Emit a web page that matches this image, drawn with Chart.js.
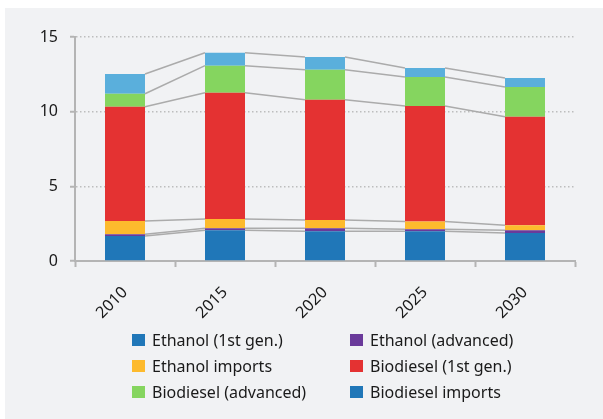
<!DOCTYPE html>
<html>
<head>
<meta charset="utf-8">
<script src="https://cdn.jsdelivr.net/npm/chart.js@4"></script>
<style>
    html, body { margin: 0; padding: 0; background: #ffffff; }
    #panel { position: absolute; left: 5px; top: 8px; width: 598px; height: 411px; background: #f1f2f4; }
    #chart-wrap { position: absolute; left: 0; top: 0; width: 598px; height: 320px; }
    #legend { position: absolute; left: 127px; top: 319px; display: grid; grid-template-columns: 218px 218px;
        font-family: 'Noto Sans', sans-serif; font-size: 16px; color: #1a1a1a; }
    .item { display: flex; align-items: center; height: 26px; white-space: nowrap; }
    .swatch { width: 13px; height: 12px; margin-right: 7px; }
</style>
</head>
<body>
<div id="panel">
    <div id="chart-wrap"><canvas id="chart"></canvas></div>
    <div id="legend"></div>
</div>
<script>
const years = ['2010', '2015', '2020', '2025', '2030'];
const seriesNames = ['Ethanol (1st gen.)', 'Ethanol (advanced)', 'Ethanol imports',
    'Biodiesel (1st gen.)', 'Biodiesel (advanced)', 'Biodiesel imports'];
const ethanol1st = [1.68, 2.06, 1.99, 1.99, 1.88];
const ethanolAdv = [0.11, 0.13, 0.20, 0.13, 0.18];
const ethanolImports = [0.89, 0.63, 0.56, 0.52, 0.33];
const biodiesel1st = [7.65, 8.45, 8.05, 7.74, 7.27];
const biodieselAdv = [0.87, 1.81, 2.01, 1.94, 1.99];
const biodieselImports = [1.32, 0.87, 0.85, 0.60, 0.60];
const yTicks = [0, 5, 10, 15];

const barColors = ['#2077b8', '#6a3a9a', '#fdba2d', '#e43232', '#85d55f', '#5aafdc'];
// the original legend shows the imports swatch in the darker blue
const legendColors = ['#2077b8', '#6a3a9a', '#fdba2d', '#e43232', '#85d55f', '#2077b8'];
const allSeries = [ethanol1st, ethanolAdv, ethanolImports, biodiesel1st, biodieselAdv, biodieselImports];

Chart.defaults.font.family = "'Noto Sans', sans-serif";
Chart.defaults.font.size = 16;
Chart.defaults.color = '#1a1a1a';

// grey lines joining the top of each segment to the same segment of the next bar
const connectors = {
    id: 'connectors',
    beforeDatasetsDraw(chart) {
        const ctx = chart.ctx;
        ctx.save();
        ctx.strokeStyle = '#ababab';
        ctx.lineWidth = 1.5;
        chart.data.datasets.forEach((ds, d) => {
            const bars = chart.getDatasetMeta(d).data;
            for (let i = 0; i < bars.length - 1; i++) {
                const a = bars[i], b = bars[i + 1];
                ctx.beginPath();
                ctx.moveTo(a.x + a.width / 2, a.y);
                ctx.lineTo(b.x - b.width / 2, b.y);
                ctx.stroke();
            }
        });
        ctx.restore();
    }
};

const ctx = document.getElementById('chart').getContext('2d');
new Chart(ctx, {
    type: 'bar',
    data: {
        labels: years,
        datasets: allSeries.map((values, i) => ({
            label: seriesNames[i],
            data: values,
            backgroundColor: barColors[i],
            borderWidth: 0,
            barPercentage: 0.4,
            categoryPercentage: 1
        }))
    },
    options: {
        responsive: true,
        maintainAspectRatio: false,
        animation: false,
        layout: { padding: { left: 34, top: 29, right: 28, bottom: 0 } },
        plugins: { legend: { display: false }, tooltip: { enabled: false } },
        scales: {
            x: {
                stacked: true,
                grid: { offset: true, drawOnChartArea: false, tickLength: 6, tickColor: '#b4b4b4', tickWidth: 2 },
                border: { color: '#b4b4b4', width: 2 },
                ticks: { maxRotation: 45, minRotation: 45, padding: 16, labelOffset: 0 },
                afterFit: (s) => { s.height = 67; }
            },
            y: {
                stacked: true,
                min: 0,
                max: 15,
                afterBuildTicks: (s) => { s.ticks = yTicks.map(v => ({ value: v })); },
                grid: {
                    color: (c) => c.tick && c.tick.value === 0 ? 'rgba(0,0,0,0)' : '#bdbdbd',
                    lineWidth: 1.5,
                    tickLength: 5,
                    tickColor: '#b4b4b4',
                    tickWidth: 2,
                    tickBorderDash: []
                },
                border: { color: '#b4b4b4', width: 2, dash: [1.5, 2.5] },
                ticks: { padding: 12 },
                afterFit: (s) => { s.width = 36; }
            }
        }
    },
    plugins: [connectors]
});

const legend = document.getElementById('legend');
seriesNames.forEach((name, i) => {
    legend.innerHTML += `<div class="item"><span class="swatch" style="background:${legendColors[i]}"></span>${name}</div>`;
});
</script>
</body>
</html>
